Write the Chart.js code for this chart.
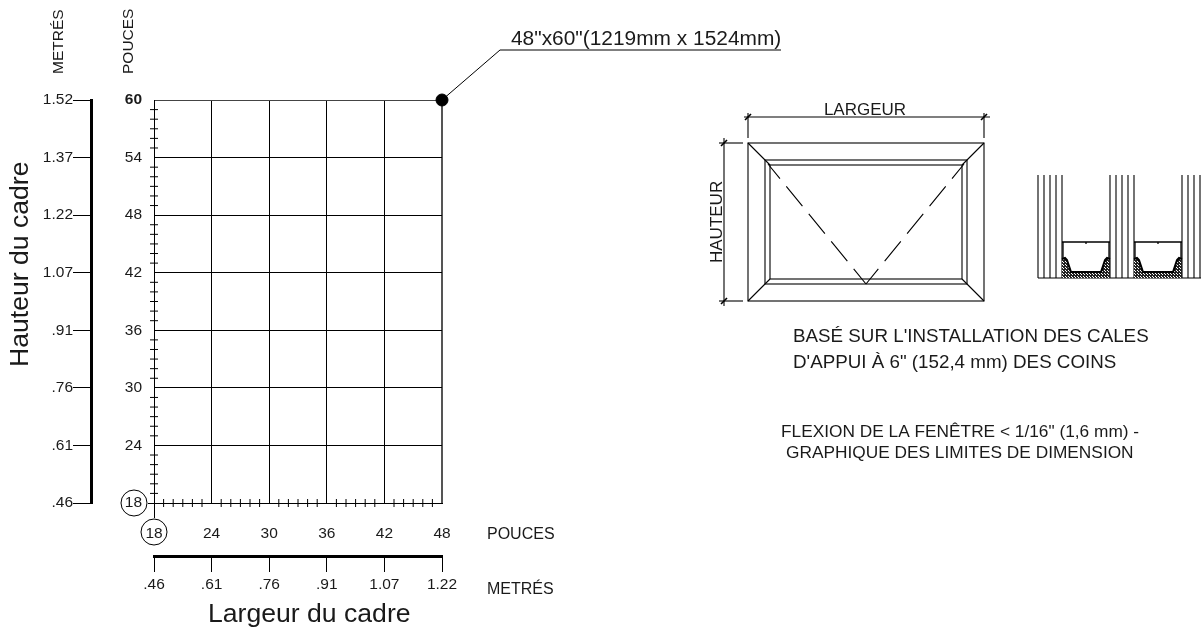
<!DOCTYPE html>
<html>
<head>
<meta charset="utf-8">
<style>
  body { margin: 0; background: #fff; }
  canvas { display: block; }
</style>
<script src="https://cdn.jsdelivr.net/npm/chart.js@4/dist/chart.umd.min.js"></script>
</head>
<body>
<canvas id="chart" width="1201" height="629"></canvas>
<script>
const FONT = '"Liberation Sans", Arial, sans-serif';
const INK = "#1a1a1a";

const widthInches = [18, 24, 30, 36, 42, 48];
const widthMetres = [".46", ".61", ".76", ".91", "1.07", "1.22"];
const heightInches = [18, 24, 30, 36, 42, 48, 54, 60];
const heightMetres = [".46", ".61", ".76", ".91", "1.07", "1.22", "1.37", "1.52"];
const minorWidth = [19, 20, 21, 22, 23, 25, 26, 27, 28, 29, 31, 32, 33, 34, 35, 37, 38, 39, 40, 41, 43, 44, 45, 46, 47];
const minorHeight = [19, 20, 21, 22, 23, 25, 26, 27, 28, 29, 31, 32, 33, 34, 35, 37, 38, 39, 40, 41, 43, 44, 45, 46, 47, 49, 50, 51, 52, 53, 55, 56, 57, 58, 59];
const limitPoint = { x: 48, y: 60 };

function setTicks(values) {
    return scale => { scale.ticks = values.map(value => ({ value })); };
}

function line(ctx, pts) {
    ctx.beginPath();
    pts.forEach((p, i) => (i ? ctx.lineTo(p[0], p[1]) : ctx.moveTo(p[0], p[1])));
    ctx.stroke();
}

function label(ctx, text, x, y, size, rotate, align) {
    ctx.save();
    ctx.translate(x, y);
    if (rotate) ctx.rotate(-Math.PI / 2);
    ctx.font = `${size}px ${FONT}`;
    ctx.fillStyle = INK;
    ctx.textAlign = align || "left";
    ctx.textBaseline = "alphabetic";
    ctx.fillText(text, 0, 0);
    ctx.restore();
}

function drawWindow(ctx) {
    ctx.strokeStyle = "#000";
    ctx.lineWidth = 1.1;
    ctx.strokeRect(748, 143, 236, 158);
    ctx.strokeRect(765, 160, 202, 124);
    ctx.strokeRect(770, 165, 192, 114);
    line(ctx, [[748, 143], [770, 165]]);
    line(ctx, [[984, 143], [962, 165]]);
    line(ctx, [[748, 301], [770, 279]]);
    line(ctx, [[984, 301], [962, 279]]);

    ctx.setLineDash([25.5, 10]);
    ctx.lineDashOffset = 6;
    line(ctx, [[866, 284], [768, 164]]);
    line(ctx, [[866, 284], [964, 164]]);
    ctx.setLineDash([]);
    ctx.lineDashOffset = 0;

    // cotes
    line(ctx, [[744, 117], [990, 117]]);
    line(ctx, [[748, 113], [748, 138]]);
    line(ctx, [[984, 113], [984, 138]]);
    line(ctx, [[724, 138], [724, 306]]);
    line(ctx, [[719, 143], [743, 143]]);
    line(ctx, [[719, 301], [743, 301]]);
    ctx.lineWidth = 1.6;
    [[748, 117], [984, 117], [724, 143], [724, 301]].forEach(p => {
        line(ctx, [[p[0] - 3, p[1] + 3], [p[0] + 3, p[1] - 3]]);
    });
}

function dotPattern(ctx) {
    const cell = document.createElement("canvas");
    cell.width = cell.height = 3;
    const c = cell.getContext("2d");
    c.fillStyle = "#222";
    c.fillRect(0, 0, 3, 3);
    c.fillStyle = "#fff";
    c.fillRect(1, 1, 1, 1);
    c.fillRect(0, 0, 1, 1);
    return ctx.createPattern(cell, "repeat");
}

function drawSpacer(ctx, x0, pattern) {
    const w = 48;
    ctx.lineWidth = 1.3;
    ctx.strokeStyle = "#000";
    line(ctx, [[x0, 242], [x0 + w, 242]]);
    line(ctx, [[x0 + 1, 242], [x0 + 1, 259]]);
    line(ctx, [[x0 + w - 1, 242], [x0 + w - 1, 259]]);
    line(ctx, [[x0 + w / 2, 242], [x0 + w / 2, 244]]);

    const seal = [[x0, 259], [x0 + 3, 258], [x0 + 5, 260], [x0 + 9, 272], [x0 + w - 9, 272], [x0 + w - 5, 260], [x0 + w - 3, 258], [x0 + w, 259]];
    ctx.beginPath();
    seal.forEach((p, i) => (i ? ctx.lineTo(p[0], p[1]) : ctx.moveTo(p[0], p[1])));
    ctx.lineTo(x0 + w, 278);
    ctx.lineTo(x0, 278);
    ctx.closePath();
    ctx.fillStyle = pattern;
    ctx.fill();
    ctx.lineWidth = 2;
    line(ctx, seal);
}

function drawSection(ctx) {
    const glass = [1038, 1044, 1050, 1056, 1062, 1110, 1116, 1122, 1128, 1134, 1182, 1188, 1194, 1200];
    ctx.strokeStyle = "#000";
    ctx.lineWidth = 1.1;
    glass.forEach(x => line(ctx, [[x, 175], [x, 278]]));
    line(ctx, [[1038, 278], [1201, 278]]);
    const pattern = dotPattern(ctx);
    drawSpacer(ctx, 1062, pattern);
    drawSpacer(ctx, 1134, pattern);
}

const drawingPlugin = {
    id: "drawing",
    afterDraw(chart) {
        const ctx = chart.ctx;
        const xs = chart.scales.x;
        const ys = chart.scales.y;
        ctx.save();

        // cercles autour des 18
        ctx.strokeStyle = "#000";
        ctx.lineWidth = 1;
        ctx.beginPath();
        ctx.arc(xs.getPixelForValue(18) - 20, ys.getPixelForValue(18), 13, 0, Math.PI * 2);
        ctx.stroke();
        ctx.beginPath();
        ctx.arc(xs.getPixelForValue(18), ys.getPixelForValue(18) + 29, 13, 0, Math.PI * 2);
        ctx.stroke();

        // renvoi vers le point limite
        const px = xs.getPixelForValue(limitPoint.x);
        const py = ys.getPixelForValue(limitPoint.y);
        line(ctx, [[px, py], [500, 50], [781, 50]]);
        label(ctx, '48"x60"(1219mm x 1524mm)', 511, 45, 20.9);

        label(ctx, "METRÉS", 63, 74, 15.5, true);
        label(ctx, "POUCES", 133, 74, 15.5, true);
        label(ctx, "Hauteur du cadre", 28, 367, 26.6, true);
        label(ctx, "Largeur du cadre", 208, 622, 26.6);
        label(ctx, "POUCES", 487, 539, 16);
        label(ctx, "METRÉS", 487, 594, 16);

        label(ctx, "LARGEUR", 865, 115, 17, false, "center");
        label(ctx, "HAUTEUR", 722, 263, 17, true);
        label(ctx, "BASÉ SUR L'INSTALLATION DES CALES", 793, 342, 18.8);
        label(ctx, "D'APPUI À 6\" (152,4 mm) DES COINS", 793, 368, 18.8);
        label(ctx, "FLEXION DE LA FENÊTRE < 1/16\" (1,6 mm) -", 781, 437, 17.3);
        label(ctx, "GRAPHIQUE DES LIMITES DE DIMENSION", 786, 458, 17.3);

        drawWindow(ctx);
        drawSection(ctx);
        ctx.restore();
    }
};

new Chart(document.getElementById("chart"), {
    type: "scatter",
    data: {
        datasets: [
            {
                data: minorWidth.map(x => ({ x, y: 18 })),
                pointStyle: "line",
                rotation: 90,
                pointRadius: 4,
                pointBorderColor: "#000",
                pointBorderWidth: 1,
                clip: false
            },
            {
                data: minorHeight.map(y => ({ x: 18, y })),
                pointStyle: "line",
                pointRadius: 4,
                pointBorderColor: "#000",
                pointBorderWidth: 1,
                clip: false
            },
            {
                data: [limitPoint],
                pointRadius: 6,
                pointBackgroundColor: "#000",
                pointBorderColor: "#000",
                clip: false
            }
        ]
    },
    options: {
        responsive: false,
        animation: false,
        events: [],
        layout: { autoPadding: false, padding: { left: 0, right: 759, top: 100, bottom: 0 } },
        plugins: { legend: { display: false }, tooltip: { enabled: false } },
        scales: {
            x: {
                type: "linear",
                position: "bottom",
                min: 18,
                max: 48,
                weight: 0,
                afterBuildTicks: setTicks(widthInches),
                afterFit: s => { s.height = 53; },
                border: { color: "#000", width: 1 },
                grid: {
                    color: c => (c.tick?.value === 48 ? "#555" : "#000"),
                    lineWidth: c => (c.tick?.value === 48 ? 2 : 1),
                    tickLength: 15,
                    tickColor: c => (c.tick?.value === 18 ? "#000" : "transparent")
                },
                ticks: {
                    autoSkip: false,
                    maxRotation: 0,
                    padding: 6,
                    color: INK,
                    font: { family: FONT, size: 15.5 }
                }
            },
            x2: {
                type: "linear",
                position: "bottom",
                min: 18,
                max: 48,
                weight: 1,
                afterBuildTicks: setTicks(widthInches),
                afterFit: s => { s.height = 73; },
                border: { color: "#000", width: 3 },
                grid: { drawOnChartArea: false, tickLength: 16, color: "#000", tickColor: "#000" },
                ticks: {
                    autoSkip: false,
                    maxRotation: 0,
                    padding: 3,
                    color: INK,
                    font: { family: FONT, size: 15.5 },
                    callback: (v, i) => widthMetres[i]
                }
            },
            y: {
                type: "linear",
                position: "left",
                min: 18,
                max: 60,
                weight: 0,
                afterBuildTicks: setTicks(heightInches),
                afterFit: s => { s.width = 63; },
                border: { color: "#000", width: 1 },
                grid: {
                    color: c => (c.tick?.value === 60 ? "#444" : "#000"),
                    tickLength: 6,
                    tickColor: c => (c.tick?.value === 18 ? "#000" : "transparent")
                },
                ticks: {
                    autoSkip: false,
                    padding: 6,
                    color: INK,
                    font: c => ({ family: FONT, size: 15.5, weight: c.tick?.value === 60 ? "bold" : "normal" })
                }
            },
            y2: {
                type: "linear",
                position: "left",
                min: 18,
                max: 60,
                weight: 1,
                afterBuildTicks: setTicks(heightInches),
                afterFit: s => { s.width = 91; },
                border: { color: "#000", width: 3 },
                grid: { drawOnChartArea: false, tickLength: 18, color: "#000", tickColor: "#000" },
                ticks: {
                    autoSkip: false,
                    padding: 0,
                    color: INK,
                    font: { family: FONT, size: 15.5 },
                    callback: (v, i) => heightMetres[i]
                }
            }
        }
    },
    plugins: [drawingPlugin]
});
</script>
</body>
</html>
